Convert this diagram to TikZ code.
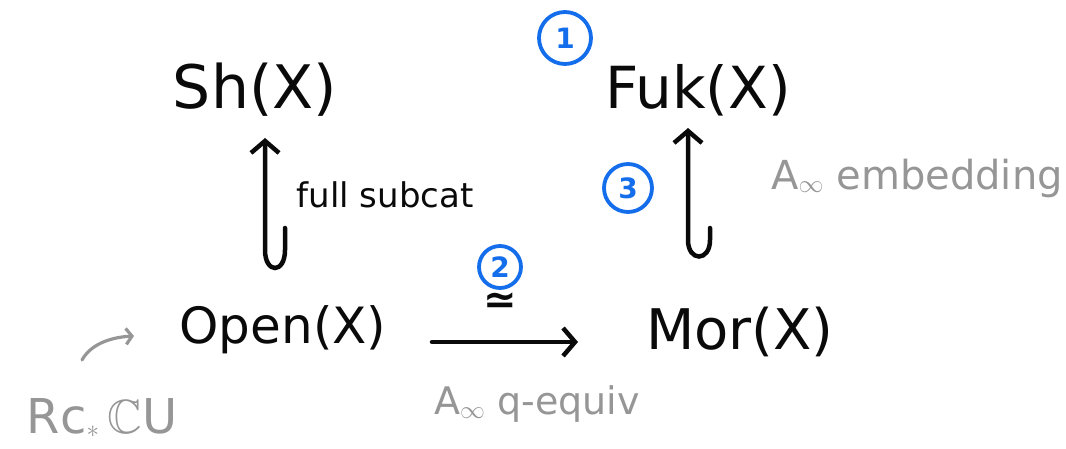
\documentclass[tikz,border=0pt]{standalone}
\usepackage{amsmath,amssymb}
\usepackage{fontspec}
\setmainfont{DejaVu Sans}
\usetikzlibrary{arrows.meta,calc}
\definecolor{pen}{RGB}{10,10,10}
\definecolor{gpen}{RGB}{150,150,150}
\definecolor{bpen}{RGB}{20,110,235}
\begin{document}
\begin{tikzpicture}[x=1pt,y=-1pt,
  obj/.style={font=\fontsize{#1}{60}\selectfont, text=pen, inner sep=0pt},
  lab/.style={font=\fontsize{34}{38}\selectfont, text=pen, inner sep=0pt},
  glab/.style={font=\fontsize{#1}{40}\selectfont, text=gpen, inner sep=0pt},
  num/.style={draw=bpen, line width=3.8pt, circle, text=bpen, font=\fontsize{28}{30}\selectfont\bfseries, inner sep=0pt, minimum size=#1},
  arr/.style={draw=pen, line width=4.5pt, line cap=round, -{Straight Barb[length=12pt,width=28pt,line width=4.5pt]}},
  garr/.style={draw=gpen, line width=3.2pt, line cap=round, -{Straight Barb[length=6pt,width=16pt,line width=3.2pt]}}]
\useasboundingbox (0,0) rectangle (1066,449);
\node[obj=60] (sh) at (255,90) {Sh(X)};
\node[obj=58] (fuk) at (698,90) {Fuk(X)};
\node[obj=50] (open) at (283,330) {Open(X)};
\node[obj=56] (mor) at (740,332) {Mor(X)};
\node[lab] (fs) at (385,195) {full subcat};
\node[glab=40] (ainf1) at (917,178) {A$_\infty$ embedding};
\node[glab=38] (ainf2) at (537,404) {A$_\infty$ q-equiv};
\node[glab=48] (rc) at (102,418) {Rc$_*$\,$\mathbb{C}$U};
\node[num=52pt] (n1) at (565,38) {1};
\node[num=42pt] (n2) at (500,267) {2};
\node[num=48pt] (n3) at (628,188) {3};
\node[font=\fontsize{40}{44}\selectfont\bfseries, text=pen, inner sep=0pt] (eq) at (500,303) {≃};
% hooked arrows
\coordinate (hL) at (285,228);
\coordinate (tL) at (265,138);
\draw[arr] (hL) -- (285,250) .. controls (285,274) and (265,274) .. (265,250) -- (tL);
\coordinate (hR) at (710,228);
\coordinate (tR) at (688,128);
\draw[arr] (hR) -- (710,240) .. controls (710,262) and (688,262) .. (688,240) -- (tR);
% horizontal
\coordinate (a1) at (432,342);
\coordinate (a2) at (578,342);
\draw[arr] (a1) -- (a2);
% gray arrow
\coordinate (g1) at (82,360);
\coordinate (g2) at (134,336);
\draw[garr] (g1) .. controls (92,342) and (115,337) .. (g2);
\end{tikzpicture}
\end{document}
